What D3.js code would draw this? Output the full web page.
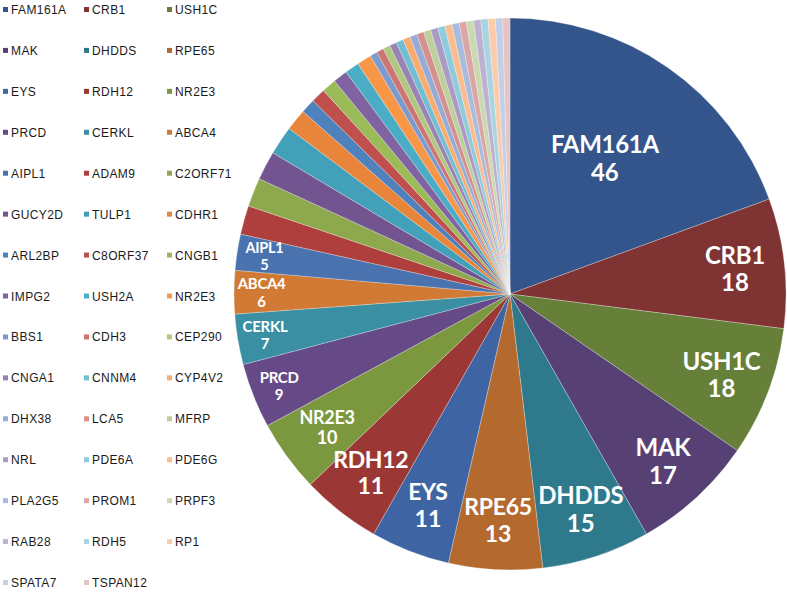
<!DOCTYPE html>
<html>
<head>
<meta charset="utf-8">
<script src="https://cdn.jsdelivr.net/npm/d3@7"></script>
<style>
  body { margin: 0; background: #fff; }
</style>
</head>
<body>
<div id="chart"></div>
<script>
const width = 787, height = 592;

// genes, counts (unlabeled ones estimated from their angle)
const genes = ["FAM161A", "CRB1", "USH1C", "MAK", "DHDDS", "RPE65", "EYS", "RDH12", "NR2E3",
  "PRCD", "CERKL", "ABCA4", "AIPL1", "ADAM9", "C2ORF71", "GUCY2D", "TULP1", "CDHR1",
  "ARL2BP", "C8ORF37", "CNGB1", "IMPG2", "USH2A", "NR2E3", "BBS1", "CDH3", "CEP290",
  "CNGA1", "CNNM4", "CYP4V2", "DHX38", "LCA5", "MFRP", "NRL", "PDE6A", "PDE6G",
  "PLA2G5", "PROM1", "PRPF3", "RAB28", "RDH5", "RP1", "SPATA7", "TSPAN12"];
const counts = [46, 18, 18, 17, 15, 13, 11, 11, 10,
  9, 7, 6, 5, 4, 4, 4, 4, 3,
  2, 2, 2, 2, 2, 2, 1, 1, 1,
  1, 1, 1, 1, 1, 1, 1, 1, 1,
  1, 1, 1, 1, 1, 1, 1, 1];
// only the biggest slices carry a data label
const labelled = 13;

// office palette, shade rings: dark -> base -> tints
const colors = [
  "#34558b", "#803333", "#66803a", "#574174", "#2e7a8c", "#b46a2e",
  "#3e64a4", "#9b3835", "#7b983f", "#654a87", "#3a8fa2", "#d07a35",
  "#4a72ae", "#ae3f3c", "#8da84d", "#725590", "#42a0b8", "#e8853a",
  "#4f81bd", "#c0504d", "#9bbb59", "#8064a2", "#4bacc6", "#f79646",
  "#7b9acd", "#cc7573", "#afc77f", "#9883b4", "#74bed4", "#f9ab70",
  "#95add6", "#d4908e", "#bdd09b", "#aa9bc4", "#8fcbdc", "#fbbd90",
  "#a9bcdd", "#dba7a6", "#cad9af", "#bcb1d0", "#a9d5e3", "#fccba9",
  "#c3cfe7", "#e6c4c3"];

const data = genes.map((g, i) => ({gene: g, count: counts[i], idx: i}));

const svg = d3.select("#chart").append("svg")
  .attr("width", width)
  .attr("height", height);

// pie
const cx = 510, cy = 294, R = 276;
const pie = d3.pie().value(d => d.count).sort(null);
const arc = d3.arc().innerRadius(0).outerRadius(R);
const arcs = pie(data);

const g = svg.append("g").attr("transform", `translate(${cx},${cy})`);

g.selectAll("path.slice")
  .data(arcs)
  .enter()
  .append("path")
    .attr("class", "slice")
    .attr("d", arc)
    .attr("fill", d => colors[d.data.idx])
    .attr("stroke", "#ffffff")
    .attr("stroke-opacity", 0.45)
    .attr("stroke-width", 0.6);

// data labels, name + count
function labelSize(v) {
  if (v >= 14) return 24;
  if (v >= 11) return 23;
  if (v >= 10) return 18;
  if (v >= 6) return 15;
  return 14.5;
}
function labelRadius(v) {
  if (v >= 40) return R * 0.6;
  if (v >= 10) return R * 0.82;
  return R * 0.9;
}

const lab = g.selectAll("g.lab")
  .data(arcs.slice(0, labelled))
  .enter()
  .append("g")
    .attr("class", "lab")
    .attr("transform", d => {
      const mid = (d.startAngle + d.endAngle) / 2;
      const r = labelRadius(d.data.count);
      return `translate(${r * Math.sin(mid)},${-r * Math.cos(mid)})`;
    });

lab.append("text")
  .text(d => d.data.gene)
  .attr("y", d => -labelSize(d.data.count) * 0.2)
  .attr("text-anchor", "middle")
  .style("font-family", "Lato, 'Open Sans', sans-serif")
  .style("font-weight", "bold")
  .style("font-size", d => labelSize(d.data.count) + "px")
  .style("letter-spacing", "-0.3px")
  .attr("fill", "#ffffff");

lab.append("text")
  .text(d => d.data.count)
  .attr("y", d => labelSize(d.data.count) * 0.95)
  .attr("text-anchor", "middle")
  .style("font-family", "Lato, 'Open Sans', sans-serif")
  .style("font-weight", "bold")
  .style("font-size", d => labelSize(d.data.count) + "px")
  .attr("fill", "#ffffff");

// legend, 3 columns
const colX = [3, 84, 167];
const rowY = d3.scaleLinear().domain([0, 14]).range([10, 583]);

const leg = svg.selectAll("g.leg")
  .data(data)
  .enter()
  .append("g")
    .attr("class", "leg")
    .attr("transform", d => `translate(${colX[d.idx % 3]},${rowY(Math.floor(d.idx / 3))})`);

leg.append("rect")
  .attr("x", 0)
  .attr("y", -3)
  .attr("width", 5)
  .attr("height", 5)
  .attr("fill", d => colors[d.idx]);

leg.append("text")
  .text(d => d.gene)
  .attr("x", 8)
  .attr("y", 4)
  .style("font-family", "'Liberation Sans', Arial, sans-serif")
  .style("font-size", "12px")
  .style("letter-spacing", "0.4px")
  .attr("fill", "#1a1a1a");
</script>
</body>
</html>
